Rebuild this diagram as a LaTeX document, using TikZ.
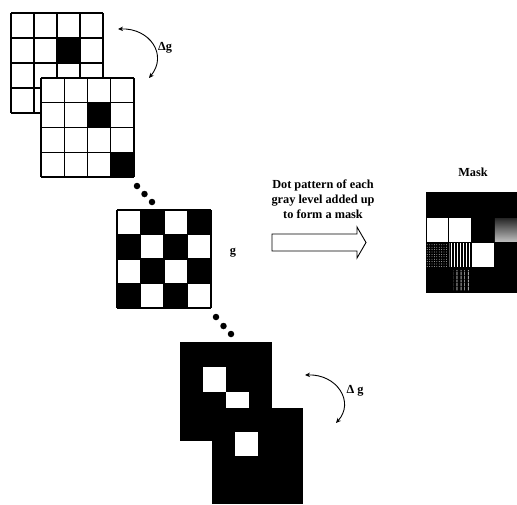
\documentclass[tikz,border=0pt]{standalone}
\usepackage{fontspec}
\setmainfont{Liberation Serif}
\usetikzlibrary{patterns,patterns.meta,arrows.meta}
\begin{document}
\begin{tikzpicture}[x=1pt,y=-1pt,
  gridline/.style={line width=1.1pt,draw=black},
  lbl/.style={font=\bfseries\fontsize{12.3}{15}\selectfont, inner sep=0pt},
  dotmark/.style={circle,fill=black,inner sep=0pt,minimum size=6.5pt},
  curvarrow/.style={line width=0.9pt,{Stealth[length=5pt,width=4.5pt]}-{Stealth[length=5pt,width=4.5pt]}},
  blockarrow/.style={draw=black,line width=0.9pt,fill=white}
]
\useasboundingbox (0,0) rectangle (517,504);
\newcommand{\mygridlines}{%
  \foreach \i in {0,...,4} {
    \draw[gridline] (\i,0) -- (\i,4);
    \draw[gridline] (0,\i) -- (4,\i);
  }}
% grid 1
\begin{scope}[shift={(11,13)},x=23pt,y=-25pt]
  \fill[white] (0,0) rectangle (4,4);
  \fill[black] (2,1) rectangle +(1,1);
  \mygridlines
\end{scope}
% grid 2
\begin{scope}[shift={(41,78)},x=23.25pt,y=-24.75pt]
  \fill[white] (0,0) rectangle (4,4);
  \fill[black] (2,1) rectangle +(1,1);
  \fill[black] (3,3) rectangle +(1,1);
  \mygridlines
\end{scope}
% middle checkerboard
\begin{scope}[shift={(117,210)},x=23.5pt,y=-24.5pt]
  \fill[white] (0,0) rectangle (4,4);
  \foreach \c/\r in {1/0,3/0,0/1,2/1,1/2,3/2,0/3,2/3}
    \fill[black] (\c,\r) rectangle +(1,1);
  \mygridlines
\end{scope}
% grid A
\begin{scope}[shift={(180,342)},x=23pt,y=-24.75pt]
  \fill[black] (0,0) rectangle (4,4);
  \fill[white] (1,1) rectangle +(1,1);
  \fill[white] (2,2) rectangle +(1,1);
\end{scope}
% grid B
\begin{scope}[shift={(212,408)},x=22.75pt,y=-24pt]
  \fill[black] (0,0) rectangle (4,4);
  \fill[white] (1,1) rectangle +(1,1);
\end{scope}
% mask
\begin{scope}[shift={(426,192)},x=22.75pt,y=-25.25pt]
  \fill[black] (0,0) rectangle (4,4);
  \fill[white] (0.03,1.03) rectangle (0.97,1.97);
  \fill[white] (1.03,1.03) rectangle (1.97,1.97);
  \shade[top color=black!85,bottom color=black!25] (3.03,1.03) rectangle (4,1.97);
  \fill[pattern={Dots[distance=2.4pt,radius=0.4pt]},pattern color=white] (0,2.03) rectangle (0.97,2.97);
  \fill[white] (1.03,2.03) rectangle (1.97,2.97);
  \fill[pattern={Lines[angle=90,distance=3pt,line width=1.3pt]},pattern color=black] (1.03,2.03) rectangle (1.97,2.97);
  \fill[white] (2.03,2.03) rectangle (2.97,2.97);
  \fill[pattern={Lines[angle=90,distance=4pt,line width=0.5pt]},pattern color=white] (1.2,3.1) rectangle (1.9,3.9);
\end{scope}
% dots
\node[dotmark] (d1) at (137,186) {};
\node[dotmark] (d2) at (144.5,194) {};
\node[dotmark] (d3) at (152,202) {};
\node[dotmark] (d4) at (216,317) {};
\node[dotmark] (d5) at (223.5,326) {};
\node[dotmark] (d6) at (231,334) {};
% delta g arrows
\coordinate (ta) at (118,29);
\coordinate (tb) at (149,78);
\draw[curvarrow] (ta) .. controls (150,28) and (168,55) .. (tb);
\node[lbl] (dg1) at (165,48) {Δg};
\coordinate (ba) at (305,375);
\coordinate (bb) at (336,423);
\draw[curvarrow] (ba) .. controls (337,374) and (355,402) .. (bb);
\node[lbl] (dg2) at (355,391) {Δ g};
% g label
\node[lbl] (g) at (233,253) {g};
% text and block arrow
\node[lbl,align=center] (txt) at (323,199) {Dot pattern of each\\gray level added up\\to form a mask};
\draw[blockarrow] (272,234) -- (357,234) -- (357,227) -- (366,242.5) -- (357,258) -- (357,251) -- (272,251) -- cycle;
\node[lbl] (mask) at (473,172) {Mask};
\end{tikzpicture}
\end{document}
